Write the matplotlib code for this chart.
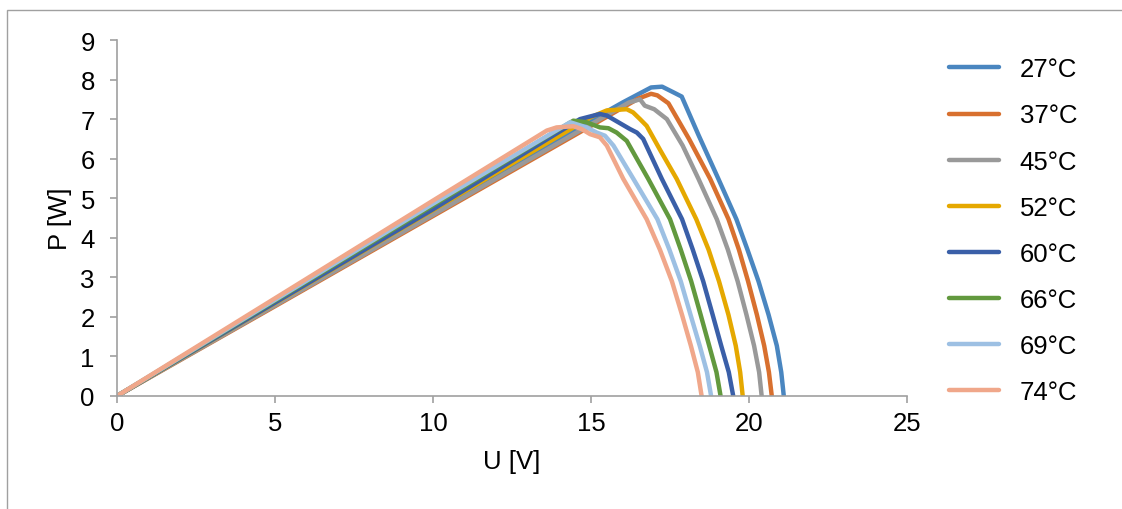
import matplotlib
matplotlib.use('Agg')
import matplotlib.pyplot as plt
from matplotlib.patches import Rectangle

plt.rcParams['font.family'] = ['Liberation Sans', 'DejaVu Sans']

# P-U curves of the panel at different temperatures
labels = ['27°C', '37°C', '45°C', '52°C', '60°C', '66°C', '69°C', '74°C']
colors = ['#4a86c0', '#d8702f', '#999999', '#e5a800',
          '#3a5fa8', '#62993e', '#9dc0e3', '#f0a78a']

u_27 = [0, 5, 10, 15, 16.0, 16.9, 17.25, 17.6, 17.87, 18.4, 19.03, 19.6, 19.95, 20.3,
        20.62, 20.88, 21.02, 21.1]
p_27 = [0, 2.33, 4.65, 6.97, 7.42, 7.80, 7.82, 7.68, 7.57, 6.6, 5.49, 4.47, 3.7, 2.9,
        2.05, 1.27, 0.6, 0]

u_37 = [0, 5, 10, 15, 16.5, 16.9, 17.1, 17.45, 18.1, 18.77, 19.35, 19.68, 19.97, 20.25,
        20.48, 20.63, 20.72]
p_37 = [0, 2.27, 4.55, 6.83, 7.52, 7.64, 7.6, 7.4, 6.5, 5.49, 4.47, 3.7, 2.9,
        2.05, 1.27, 0.6, 0]

u_45 = [0, 5, 10, 15, 16.2, 16.55, 16.7, 17.0, 17.4, 17.9, 18.4, 18.98, 19.33, 19.64,
        19.92, 20.16, 20.32, 20.4]
p_45 = [0, 2.29, 4.58, 6.87, 7.42, 7.5, 7.34, 7.25, 7.0, 6.33, 5.49, 4.47, 3.7, 2.9,
        2.05, 1.27, 0.6, 0]

u_52 = [0, 5, 10, 15, 15.5, 16.13, 16.33, 16.55, 16.76, 17.2, 17.71, 18.33, 18.72,
        19.05, 19.35, 19.58, 19.72, 19.8]
p_52 = [0, 2.35, 4.7, 7.05, 7.22, 7.25, 7.17, 7.0, 6.83, 6.2, 5.49, 4.47, 3.7,
        2.9, 2.05, 1.27, 0.6, 0]

u_60 = [0, 5, 10, 14.65, 15.28, 15.5, 16.23, 16.45, 16.65, 17.24, 17.88, 18.22, 18.55,
        18.85, 19.12, 19.36, 19.5]
p_60 = [0, 2.36, 4.72, 7.0, 7.13, 7.09, 6.75, 6.66, 6.5, 5.49, 4.47, 3.7, 2.9,
        2.05, 1.27, 0.6, 0]

u_66 = [0, 5, 10, 14.44, 14.86, 15.28, 15.55, 15.81, 16.13, 16.81, 17.5, 17.84, 18.17,
        18.47, 18.74, 18.97, 19.1]
p_66 = [0, 2.41, 4.82, 6.96, 6.92, 6.79, 6.77, 6.66, 6.45, 5.49, 4.47, 3.7, 2.9,
        2.05, 1.27, 0.6, 0]

u_69 = [0, 5, 10, 14.34, 14.86, 15.18, 15.44, 15.71, 16.34, 17.1, 17.48, 17.84,
        18.15, 18.44, 18.67, 18.8]
p_69 = [0, 2.43, 4.86, 6.92, 6.79, 6.66, 6.58, 6.33, 5.49, 4.47, 3.7, 2.9,
        2.05, 1.27, 0.6, 0]

u_74 = [0, 5, 10, 13.6, 13.91, 14.44, 14.7, 14.97, 15.28, 15.5, 16.02, 16.76, 17.18,
        17.56, 17.88, 18.16, 18.38, 18.5]
p_74 = [0, 2.47, 4.94, 6.71, 6.79, 6.82, 6.75, 6.62, 6.54, 6.33, 5.49, 4.47, 3.7,
        2.9, 2.05, 1.27, 0.6, 0]

series_u = [u_27, u_37, u_45, u_52, u_60, u_66, u_69, u_74]
series_p = [p_27, p_37, p_45, p_52, p_60, p_66, p_69, p_74]

fig = plt.figure(figsize=(11.22, 5.1), dpi=100)
ax = fig.add_axes([0.1043, 0.2216, 0.7041, 0.698])

# - outer chart frame
fig.patches.append(Rectangle((7 / 1122, -0.1), 1.2, 1 - 11 / 510 + 0.1,
                             transform=fig.transFigure, fill=False,
                             edgecolor='#a0a0a0', linewidth=1.0))

for u, p, lab, col in zip(series_u, series_p, labels, colors):
    ax.plot(u, p, '-', color=col, lw=3.2, label=lab,
            solid_joinstyle='round', solid_capstyle='round')

ax.set_xlim(0, 25)
ax.set_ylim(0, 9)
ax.set_xticks(range(0, 26, 5))
ax.set_yticks(range(0, 10))

for side in ['top', 'right']:
    ax.spines[side].set_visible(False)
for side in ['left', 'bottom']:
    ax.spines[side].set_color('#a0a0a0')
    ax.spines[side].set_linewidth(1.2)
ax.tick_params(direction='out', length=5, width=1.2, color='#a0a0a0',
               labelsize=18.5)
ax.tick_params(axis='x', pad=6)
ax.tick_params(axis='y', pad=11)

ax.set_xlabel('U [V]', fontsize=18.5, labelpad=10)
ax.set_ylabel('P [W]', fontsize=18.5, labelpad=6)

ax.legend(loc='upper left', bbox_to_anchor=(1.04, 0.98), frameon=False,
          fontsize=18.5, handlelength=1.95, handletextpad=0.8,
          labelspacing=0.86, borderaxespad=0.0)

fig.savefig('out.png', dpi=100)
